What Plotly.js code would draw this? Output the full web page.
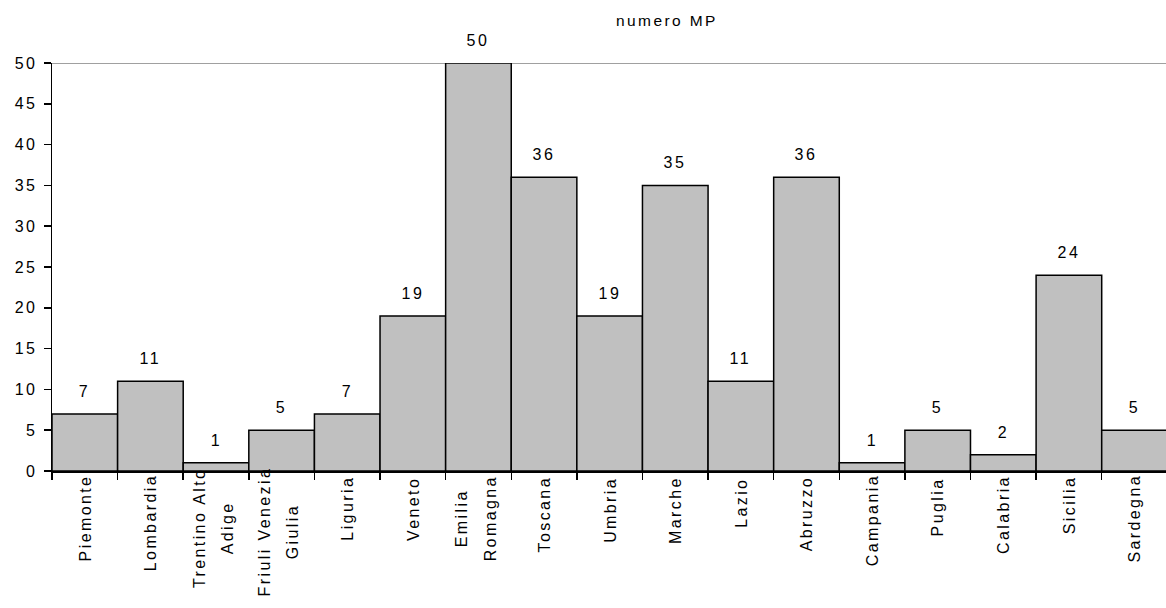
<!DOCTYPE html>
<html><head><meta charset="utf-8">
<script src="https://cdn.plot.ly/plotly-3.0.1.min.js"></script>
<style>
html,body{margin:0;padding:0;background:#fff;}
#chart{width:1166px;height:608px;}
#chart svg text{letter-spacing:2.4px;}
</style>
</head><body><div id="chart"></div>
<script>
var categories = ["Piemonte","Lombardia","Trentino Alto<br>Adige","Friuli Venezia<br>Giulia","Liguria","Veneto","Emilia<br>Romagna","Toscana","Umbria","Marche","Lazio","Abruzzo","Campania","Puglia","Calabria","Sicilia","Sardegna"];
var values = [7,11,1,5,7,19,50,36,19,35,11,36,1,5,2,24,5];
var yTicks = [0,5,10,15,20,25,30,35,40,45,50];

var FONT = 'Liberation Sans, Arial, sans-serif';
var trace = {
  type: 'bar', x: categories, y: values,
  marker: {color: '#c0c0c0', line: {color: '#000', width: 1.5}},
  hoverinfo: 'none'
};

var annotations = [];
categories.forEach(function (c, i) {
  var lines = c.split('<br>');
  annotations.push({
    x: c, y: values[i], xref: 'x', yref: 'y', showarrow: false,
    text: String(values[i]), yanchor: 'bottom', xanchor: 'center', yshift: 12,
    font: {family: FONT, size: 16, color: '#000'}
  });
  annotations.push({
    x: c, y: 0, xref: 'x', yref: 'paper', showarrow: false,
    text: lines.map(function (s) { return '<span style="font-size:16px">' + s + '</span>'; }).join('<br>'),
    textangle: -90, yanchor: 'top', xanchor: 'center', yshift: -11, xshift: lines.length > 1 ? -3 : 0,
    align: 'center',
    font: {family: FONT, size: 22, color: '#000'}
  });
});

var layout = {
  width: 1166, height: 608,
  margin: {l: 52, r: 0, t: 63, b: 137, pad: 0},
  paper_bgcolor: '#fff', plot_bgcolor: '#fff',
  bargap: 0, showlegend: false,
  font: {family: FONT, size: 16, color: '#000'},
  title: {text: 'numero MP', x: 0.572, xanchor: 'center', y: 0.975, yanchor: 'top',
          font: {size: 15.5, color: '#000'}},
  xaxis: {type: 'category', range: [-0.5, 16.48], tickson: 'boundaries', ticks: 'outside',
          ticklen: 7, tickcolor: '#000', tickwidth: 1.5, showline: true, linecolor: '#000', linewidth: 1.5,
          showgrid: false, showticklabels: false, automargin: false},
  yaxis: {range: [0, 50], tickvals: yTicks, ticks: 'outside', ticklen: 7, tickcolor: '#000', tickwidth: 1.5,
          showline: true, linecolor: '#000', linewidth: 1.5, showgrid: false, zeroline: false,
          tickfont: {size: 16}, ticklabelstandoff: 3, automargin: false},
  shapes: [{type: 'line', xref: 'paper', yref: 'y', x0: 0, x1: 1, y0: 50, y1: 50,
            line: {color: '#a0a0a0', width: 2}, layer: 'below'}],
  annotations: annotations
};
Plotly.newPlot('chart', [trace], layout, {staticPlot: true});
</script></body></html>
